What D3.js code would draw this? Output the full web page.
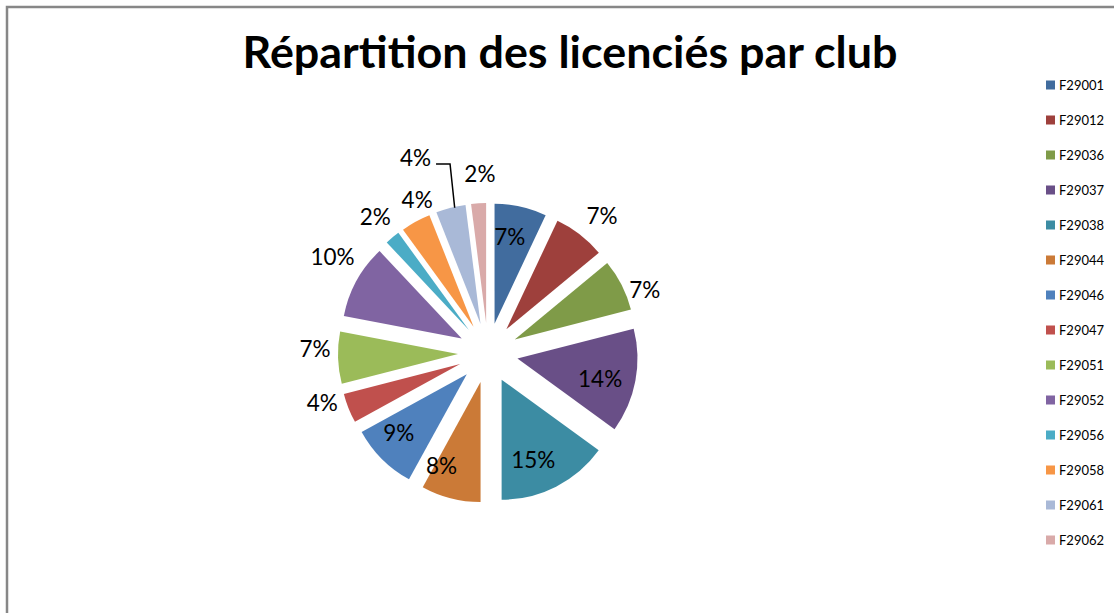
<!DOCTYPE html>
<html>
<head>
<meta charset="utf-8">
<script src="https://cdn.jsdelivr.net/npm/d3@7"></script>
<style>
  html, body { margin: 0; padding: 0; background: #fff; }
  svg { display: block; font-family: Lato, "Noto Sans", sans-serif; }
</style>
</head>
<body>
<div id="chart"></div>
<script>
const clubs = ["F29001", "F29012", "F29036", "F29037", "F29038", "F29044", "F29046",
               "F29047", "F29051", "F29052", "F29056", "F29058", "F29061", "F29062"];
const shares = [7, 7, 7, 14, 15, 8, 9, 4, 7, 10, 2, 4, 4, 2];
const colors = ["#416c9e", "#9e403c", "#7f9b48", "#694f87", "#3c8ca3", "#cb7a37", "#4f81bd",
                "#c0504d", "#9bbb59", "#8064a2", "#4bacc6", "#f79646", "#a9b9d7", "#d9aaa9"];
const title = "Répartition des licenciés par club";

// label placement (Excel "best fit" look): distance from centre and angular nudge in degrees
const labelR = [118, 178, 169, 115, 116, 122, 120, 173, 173, 183, 177, 169, 208, 179];
const labelNudge = [-2, 2, 5, 2, 4, 8, 3, 5, 3, 3, 0, 4, -6, 1];
const withLeader = [12];

const W = 1114, H = 613;
const cx = 488, cy = 353, radius = 120, explode = 30;

const svg = d3.select("#chart").append("svg").attr("width", W).attr("height", H);

// chart area border (cut by the window on right / bottom)
svg.append("path")
  .attr("d", `M7,${H + 5} L7,7 L${W + 5},7`)
  .attr("fill", "none").attr("stroke", "#878787").attr("stroke-width", 2.5);

// title, fitted to the reference width
const t = svg.append("text")
  .attr("x", 570).attr("y", 68)
  .attr("text-anchor", "middle")
  .attr("font-weight", "bold").attr("font-size", 40).attr("fill", "#000")
  .text(title);
const tw = t.node().getComputedTextLength();
t.attr("font-size", 40 * 655 / tw);

const pie = d3.pie().sort(null).value(d => d);
const arcs = pie(shares);
const arc = d3.arc().innerRadius(0).outerRadius(radius);

const g = svg.append("g").attr("transform", `translate(${cx},${cy})`);

const mid = d => (d.startAngle + d.endAngle) / 2;

g.selectAll("path.slice").data(arcs).enter().append("path")
  .attr("class", "slice")
  .attr("d", arc)
  .attr("fill", (d, i) => colors[i])
  .attr("transform", d => {
    const a = mid(d);
    return `translate(${explode * Math.sin(a)},${-explode * Math.cos(a)})`;
  });

const labelPos = (d, i) => {
  const a = mid(d) + labelNudge[i] * Math.PI / 180;
  return [labelR[i] * Math.sin(a), -labelR[i] * Math.cos(a)];
};

const labels = g.selectAll("text.lbl").data(arcs).enter().append("text")
  .attr("class", "lbl")
  .attr("x", (d, i) => labelPos(d, i)[0])
  .attr("y", (d, i) => labelPos(d, i)[1])
  .attr("dy", "0.36em")
  .attr("text-anchor", "middle")
  .attr("font-size", 22.5).attr("fill", "#000")
  .text(d => d.data + "%");

// leader lines for labels pushed away from their slice
withLeader.forEach(i => {
  const d = arcs[i];
  const [lx, ly] = labelPos(d, i);
  const w = labels.filter((e, j) => j === i).node().getComputedTextLength();
  const a = mid(d);
  const ex = (radius + explode) * Math.sin(a), ey = -(radius + explode) * Math.cos(a);
  const sx = lx + w / 2 + 5, sy = ly + 6;
  g.append("path")
    .attr("d", `M${sx},${sy} L${sx + 14},${sy} L${ex + 4},${ey}`)
    .attr("fill", "none").attr("stroke", "#000").attr("stroke-width", 1.5);
});

// legend
const legend = svg.append("g").attr("transform", "translate(1046,85)");
const rows = legend.selectAll("g").data(clubs).enter().append("g")
  .attr("transform", (d, i) => `translate(0,${i * 35})`);
rows.append("rect").attr("x", 0).attr("y", -4.5).attr("width", 9).attr("height", 9)
  .attr("fill", (d, i) => colors[i]);
rows.append("text").attr("x", 13).attr("y", 0).attr("dy", "0.36em")
  .attr("font-size", 13).attr("fill", "#000")
  .text(d => d);
</script>
</body>
</html>
